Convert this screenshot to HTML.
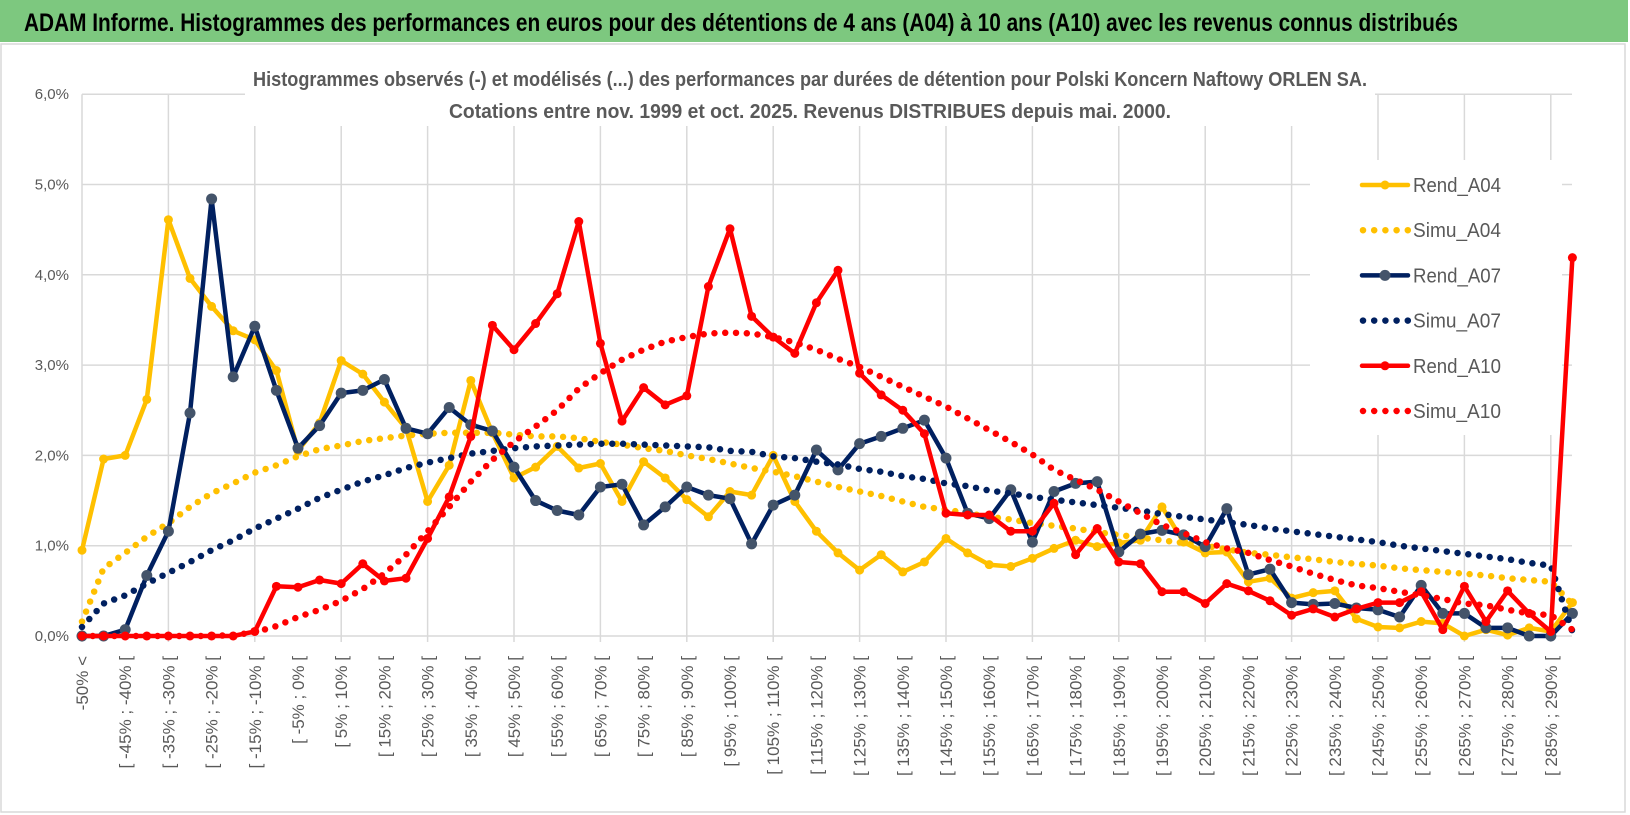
<!DOCTYPE html>
<html><head><meta charset="utf-8"><title>ADAM Informe ORLEN</title>
<style>
html,body{margin:0;padding:0;background:#fff;width:1630px;height:815px;overflow:hidden}
svg{display:block}
text{font-family:"Liberation Sans",sans-serif}
</style></head>
<body>
<svg id="chart" width="1630" height="815" xmlns="http://www.w3.org/2000/svg">
  <rect x="0" y="0" width="1628" height="42" fill="#7DC87F"/>
  <text x="24" y="31" font-size="25" font-weight="bold" fill="#000" textLength="1434" lengthAdjust="spacingAndGlyphs">ADAM Informe. Histogrammes des performances en euros pour des détentions de 4 ans (A04) à 10 ans (A10) avec les revenus connus distribués</text>
  <rect x="1" y="44" width="1624" height="768" fill="none" stroke="#d9d9d9" stroke-width="1.5"/>
  <g id="grid"></g>
  <g id="yaxis"></g>
  <g id="xaxis"></g>
  <rect x="245" y="62" width="1130" height="64" fill="#fff"/>
  <text x="810" y="86" font-size="20" font-weight="bold" fill="#595959" text-anchor="middle" textLength="1114" lengthAdjust="spacingAndGlyphs">Histogrammes observés (-) et modélisés (...) des performances par durées de détention pour Polski Koncern Naftowy ORLEN SA.</text>
  <text x="810" y="118" font-size="20" font-weight="bold" fill="#595959" text-anchor="middle" textLength="722" lengthAdjust="spacingAndGlyphs">Cotations entre nov. 1999 et oct. 2025.  Revenus DISTRIBUES depuis mai. 2000.</text>
  <g id="legend"></g>
  <g id="series"></g>
</svg>
<script>
const categories = [];
categories.push("-50% <");
for (let a = -50; a <= 290; a += 5) categories.push("[ " + a + "% ; " + (a + 5) + "% [");
const yTicks = [0, 1, 2, 3, 4, 5, 6];
const yTickLabels = ["0,0%", "1,0%", "2,0%", "3,0%", "4,0%", "5,0%", "6,0%"];
const rendA04 = [0.95,1.96,2.00,2.62,4.61,3.96,3.65,3.38,3.28,2.94,2.05,2.36,3.05,2.90,2.59,2.30,1.49,1.89,2.83,2.25,1.75,1.87,2.10,1.86,1.91,1.49,1.93,1.75,1.51,1.32,1.60,1.56,2.00,1.49,1.16,0.92,0.73,0.90,0.71,0.82,1.08,0.92,0.79,0.77,0.86,0.97,1.06,0.99,1.03,1.06,1.43,1.04,0.92,0.93,0.60,0.64,0.42,0.48,0.50,0.19,0.10,0.09,0.16,0.14,0.00,0.07,0.01,0.09,0.05,0.37];
const simuA04 = [0.16,0.75,0.92,1.10,1.25,1.43,1.58,1.69,1.81,1.89,1.99,2.07,2.11,2.16,2.19,2.22,2.24,2.25,2.25,2.25,2.23,2.21,2.21,2.19,2.15,2.12,2.08,2.05,2.00,1.96,1.91,1.86,1.82,1.77,1.71,1.65,1.60,1.55,1.49,1.43,1.40,1.36,1.32,1.29,1.25,1.22,1.19,1.15,1.12,1.09,1.06,1.03,1.00,0.96,0.92,0.90,0.87,0.85,0.82,0.80,0.78,0.75,0.73,0.71,0.69,0.67,0.64,0.62,0.60,0.35];
const rendA07 = [0,0,0.07,0.67,1.16,2.47,4.84,2.87,3.43,2.72,2.08,2.33,2.69,2.72,2.84,2.30,2.24,2.53,2.34,2.27,1.87,1.50,1.39,1.34,1.65,1.68,1.23,1.43,1.65,1.56,1.52,1.02,1.45,1.56,2.06,1.84,2.13,2.21,2.30,2.39,1.97,1.36,1.30,1.62,1.04,1.60,1.69,1.71,0.93,1.13,1.17,1.12,0.99,1.41,0.68,0.74,0.37,0.35,0.36,0.31,0.29,0.21,0.56,0.25,0.25,0.09,0.09,0.0,0.0,0.25];
const simuA07 = [0.10,0.36,0.45,0.58,0.70,0.82,0.95,1.06,1.19,1.30,1.41,1.53,1.62,1.71,1.78,1.86,1.92,1.97,2.02,2.05,2.08,2.10,2.11,2.12,2.13,2.13,2.12,2.11,2.10,2.09,2.05,2.04,1.99,1.97,1.93,1.90,1.85,1.82,1.77,1.74,1.69,1.66,1.61,1.58,1.54,1.51,1.48,1.45,1.42,1.39,1.35,1.32,1.29,1.26,1.23,1.19,1.16,1.13,1.10,1.07,1.04,1.00,0.97,0.94,0.91,0.88,0.85,0.81,0.78,0.05];
const rendA10 = [0,0,0,0,0,0,0,0,0.05,0.55,0.54,0.62,0.58,0.80,0.61,0.64,1.08,1.54,2.21,3.44,3.17,3.46,3.79,4.59,3.24,2.38,2.75,2.56,2.66,3.87,4.51,3.54,3.31,3.13,3.69,4.05,2.91,2.67,2.50,2.24,1.36,1.34,1.34,1.16,1.16,1.47,0.90,1.19,0.82,0.80,0.49,0.49,0.36,0.58,0.50,0.39,0.23,0.30,0.21,0.30,0.37,0.37,0.49,0.07,0.55,0.16,0.50,0.25,0.05,4.19];
const simuA10 = [0,0,0,0,0,0,0,0.01,0.04,0.11,0.21,0.29,0.39,0.52,0.69,0.90,1.16,1.43,1.71,1.95,2.15,2.32,2.50,2.74,2.91,3.06,3.17,3.26,3.31,3.35,3.36,3.35,3.31,3.25,3.17,3.07,2.98,2.87,2.76,2.65,2.54,2.41,2.28,2.15,2.01,1.84,1.73,1.62,1.49,1.36,1.23,1.14,1.04,0.97,0.92,0.84,0.77,0.69,0.62,0.56,0.53,0.49,0.45,0.41,0.36,0.34,0.29,0.25,0.23,0.07];
const seriesNames = ["Rend_A04","Simu_A04","Rend_A07","Simu_A07","Rend_A10","Simu_A10"];

const NS = "http://www.w3.org/2000/svg";
const X0 = 82, STEP = 21.6, Y0 = 636, PPU = 90.3, XR = 1572;
function xPos(i){ return X0 + i * STEP; }
function yPos(v){ return Y0 - v * PPU; }
function mk(tag, attrs, parent){ const e = document.createElementNS(NS, tag); for (const k in attrs) e.setAttribute(k, attrs[k]); parent.appendChild(e); return e; }

const grid = document.getElementById('grid');
const yaxis = document.getElementById('yaxis');
const xaxis = document.getElementById('xaxis');
yTicks.forEach((t, k) => {
  const l = mk('line', {x1: X0, x2: XR, y1: yPos(t), y2: yPos(t), stroke: '#d9d9d9', 'stroke-width': 1.5}, grid);
  
  
  const tx = mk('text', {x: 69, y: yPos(t) + 5, 'font-size': 15, fill: '#595959', 'text-anchor': 'end'}, yaxis);
  tx.textContent = yTickLabels[k];
  
  
});
categories.forEach((c, i) => {
  if (i % 4 === 0) {
    const l = mk('line', {x1: xPos(i), x2: xPos(i), y1: yPos(6), y2: Y0 + 6, stroke: '#d9d9d9', 'stroke-width': 1.5}, grid);
    
    
  }
  if (i % 2 === 0) {
    const tx = mk('text', {x: 0, y: 0, 'font-size': 17, fill: '#595959', 'text-anchor': 'end', transform: 'translate(' + (xPos(i) + 6) + ',656) rotate(-90)'}, xaxis);
    tx.textContent = c;
    
    
  }
});

const L = document.getElementById('legend');
const lb = mk('rect', {x: 1310, y: 160, width: 252, height: 275, fill: '#fff'}, L);


const legColors = ['#FFC000','#FFC000','#002060','#002060','#FF0000','#FF0000'];
const legMarker = ['#FFC000','#FFC000','#44546A','#44546A','#FF0000','#FF0000'];
seriesNames.forEach((n, k) => {
  const y = 185 + k * 45.2;
  const g = mk('g', {}, L);
  
  
  if (k % 2 === 0) {
    mk('line', {x1: 1362, x2: 1408, y1: y, y2: y, stroke: legColors[k], 'stroke-width': 4.5, 'stroke-linecap': 'round'}, g);
    mk('circle', {cx: 1385, cy: y, r: k === 2 ? 5.5 : 4.5, fill: legMarker[k]}, g);
  } else {
    mk('line', {x1: 1363, x2: 1408, y1: y, y2: y, stroke: legColors[k], 'stroke-width': 6.5, 'stroke-linecap': 'round', 'stroke-dasharray': '0 11.2'}, g);
  }
  const t = mk('text', {x: 1413, y: y + 7, 'font-size': 20, fill: '#595959', textLength: 88, lengthAdjust: 'spacingAndGlyphs'}, g);
  t.textContent = n;
});

const S = document.getElementById('series');
function pathD(arr){ return arr.map((v, i) => (i ? 'L' : 'M') + xPos(i).toFixed(1) + ' ' + yPos(v).toFixed(1)).join(' '); }
function solid(arr, color, mcol, mr, name){
  const g = mk('g', {}, S);
  
  
  const p = mk('path', {d: pathD(arr), fill: 'none', stroke: color, 'stroke-width': 4.5, 'stroke-linejoin': 'round'}, g);
  
  
  arr.forEach((v, i) => {
    const c = mk('circle', {cx: xPos(i), cy: yPos(v), r: mr, fill: mcol}, g);
    
    
  });
}
function dotted(arr, color, name){
  const p = mk('path', {d: pathD(arr), fill: 'none', stroke: color, 'stroke-width': 6.5, 'stroke-linecap': 'round', 'stroke-dasharray': '0 10.8'}, S);
  
  
}
solid(rendA04, '#FFC000', '#FFC000', 4.5, 'rend-a04');
dotted(simuA04, '#FFC000', 'simu-a04');
solid(rendA07, '#002060', '#44546A', 5.5, 'rend-a07');
dotted(simuA07, '#002060', 'simu-a07');
solid(rendA10, '#FF0000', '#FF0000', 4.5, 'rend-a10');
dotted(simuA10, '#FF0000', 'simu-a10');
</script>
</body></html>
